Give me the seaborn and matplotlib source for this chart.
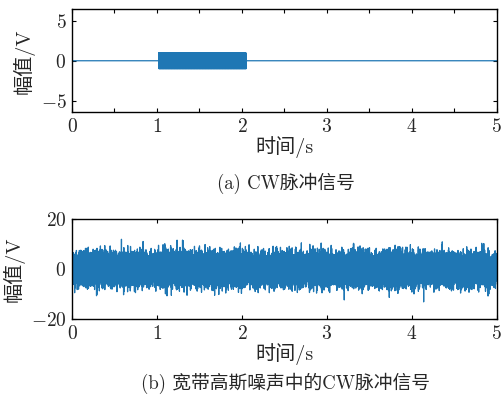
import numpy as np
import pandas as pd
import matplotlib
matplotlib.use('Agg')
import matplotlib.pyplot as plt
import seaborn as sns
from matplotlib.ticker import MultipleLocator

sns.set_theme(style='ticks')
plt.rcParams['font.family'] = ['cmr10', 'Noto Sans CJK SC', 'DejaVu Sans']
plt.rcParams['mathtext.fontset'] = 'cm'
plt.rcParams['axes.formatter.use_mathtext'] = True
plt.rcParams['axes.unicode_minus'] = True

## signal parameters
duration = [0.0, 5.0]          # s
fs = [8000]                    # samples per second
pulse_window = [1.02, 2.05]    # s, CW pulse on/off
pulse_amp = [1.0]              # V
pulse_freq = [200.0]           # Hz
noise_std = [2.9]              # V, wideband gaussian noise level

t = np.arange(duration[0], duration[1], 1.0 / fs[0])
on = (t >= pulse_window[0]) & (t <= pulse_window[1])
cw = np.where(on, pulse_amp[0] * np.sin(2 * np.pi * pulse_freq[0] * t), 0.0)
rng = np.random.default_rng(7)
noisy = cw + rng.normal(0, noise_std[0], t.size)

df = pd.DataFrame({'t': t, 'cw': cw, 'noisy': noisy})

fig = plt.figure(figsize=(5.01, 4.01), dpi=100)
ax1 = fig.add_axes([0.1437, 0.7195, 0.848, 0.258])
ax2 = fig.add_axes([0.1437, 0.2035, 0.848, 0.2515])

blue = '#1f77b4'
sns.lineplot(data=df, x='t', y='cw', ax=ax1, color=blue, lw=0.9, estimator=None)
sns.lineplot(data=df, x='t', y='noisy', ax=ax2, color=blue, lw=0.9, estimator=None)

ax1.set_xlim(0, 5); ax1.set_ylim(-6.5, 6.5)
ax1.set_yticks([-5, 0, 5])
ax1.xaxis.set_major_locator(MultipleLocator(1))
ax1.xaxis.set_minor_locator(MultipleLocator(0.5))
ax2.set_xlim(0, 5); ax2.set_ylim(-20, 20)
ax2.set_yticks([-20, 0, 20])
ax2.xaxis.set_major_locator(MultipleLocator(1))

for ax in (ax1, ax2):
    ax.tick_params(which='both', direction='in', top=True, right=True,
                   length=3, width=0.8, labelsize=14, pad=4, color='black')
    for s in ax.spines.values():
        s.set_linewidth(1.0); s.set_color('black')
    ax.set_xlabel('时间/s', fontsize=14.5, labelpad=0)
    ax.set_ylabel('幅值/V', fontsize=14.5, labelpad=4)

fig.text(0.57, 0.543, '(a) CW脉冲信号', ha='center', va='center', fontsize=13.5)
fig.text(0.57, 0.045, '(b) 宽带高斯噪声中的CW脉冲信号', ha='center', va='center', fontsize=13.5)

fig.savefig('out.png', dpi=100)
